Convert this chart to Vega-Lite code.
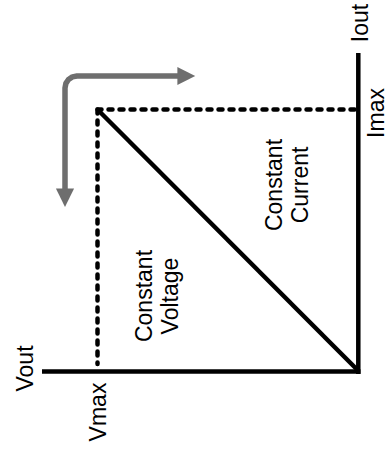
{
  "$schema": "https://vega.github.io/schema/vega-lite/v6.json",
  "width": 390,
  "height": 460,
  "autosize": {"type": "fit", "contains": "padding"},
  "padding": 0,
  "background": "white",
  "config": {"view": {"stroke": null}},
  "datasets": {
    "solid": [
      {"x": 42, "y": 371.5, "x2": 360.5, "y2": 371.5},
      {"x": 358.3, "y": 53, "x2": 358.3, "y2": 374},
      {"x": 97.5, "y": 109.5, "x2": 357.5, "y2": 370}
    ],
    "dashed": [
      {"x": 97.5, "y": 109.5, "x2": 358, "y2": 109.5},
      {"x": 97.5, "y": 109.5, "x2": 97.5, "y2": 364}
    ],
    "arrow": [
      {"i": 0, "x": 65, "y": 189},
      {"i": 1, "x": 65, "y": 88},
      {"i": 2, "x": 65.9, "y": 83.4},
      {"i": 3, "x": 68.5, "y": 79.5},
      {"i": 4, "x": 72.4, "y": 76.9},
      {"i": 5, "x": 77, "y": 76},
      {"i": 6, "x": 179, "y": 76}
    ],
    "headDown": [{"x": 65, "y": 197.5}],
    "headRight": [{"x": 186.3, "y": 76}],
    "labels": [
      {"x": 152, "y": 296, "label": "Constant\nVoltage"},
      {"x": 282, "y": 185, "label": "Constant\nCurrent"},
      {"x": 33, "y": 368.5, "label": "Vout"},
      {"x": 106, "y": 412, "label": "Vmax"},
      {"x": 368, "y": 23, "label": "Iout"},
      {"x": 384, "y": 113, "label": "Imax"}
    ]
  },
  "encoding": {
    "x": {"field": "x", "type": "quantitative", "axis": null, "scale": {"domain": [0, 390], "nice": false, "zero": false}},
    "y": {"field": "y", "type": "quantitative", "axis": null, "scale": {"domain": [0, 460], "nice": false, "zero": false, "reverse": true}}
  },
  "layer": [
    {
      "data": {"name": "solid"},
      "mark": {"type": "rule", "color": "black", "strokeWidth": 4.5, "strokeCap": "butt"},
      "encoding": {
        "x2": {"field": "x2"},
        "y2": {"field": "y2"}
      }
    },
    {
      "data": {"name": "dashed"},
      "mark": {"type": "rule", "color": "black", "strokeWidth": 4.5, "strokeCap": "round", "strokeDash": [4, 7]},
      "encoding": {
        "x2": {"field": "x2"},
        "y2": {"field": "y2"}
      }
    },
    {
      "data": {"name": "arrow"},
      "mark": {"type": "line", "color": "#6e6e6e", "strokeWidth": 5.5, "strokeCap": "butt", "strokeJoin": "round"},
      "encoding": {
        "order": {"field": "i", "type": "quantitative"}
      }
    },
    {
      "data": {"name": "headDown"},
      "mark": {"type": "point", "filled": true, "color": "#6e6e6e", "opacity": 1, "size": 330, "shape": "M-1,-1L1,-1L0,1.05Z"}
    },
    {
      "data": {"name": "headRight"},
      "mark": {"type": "point", "filled": true, "color": "#6e6e6e", "opacity": 1, "size": 320, "shape": "M-1,-1L1,0L-1,1Z"}
    },
    {
      "data": {"name": "labels"},
      "mark": {"type": "text", "angle": 270, "align": "center", "baseline": "alphabetic", "font": "Liberation Sans", "fontSize": 23, "lineHeight": 26, "lineBreak": "\n", "color": "black"},
      "encoding": {
        "text": {"field": "label", "type": "nominal"}
      }
    }
  ]
}
